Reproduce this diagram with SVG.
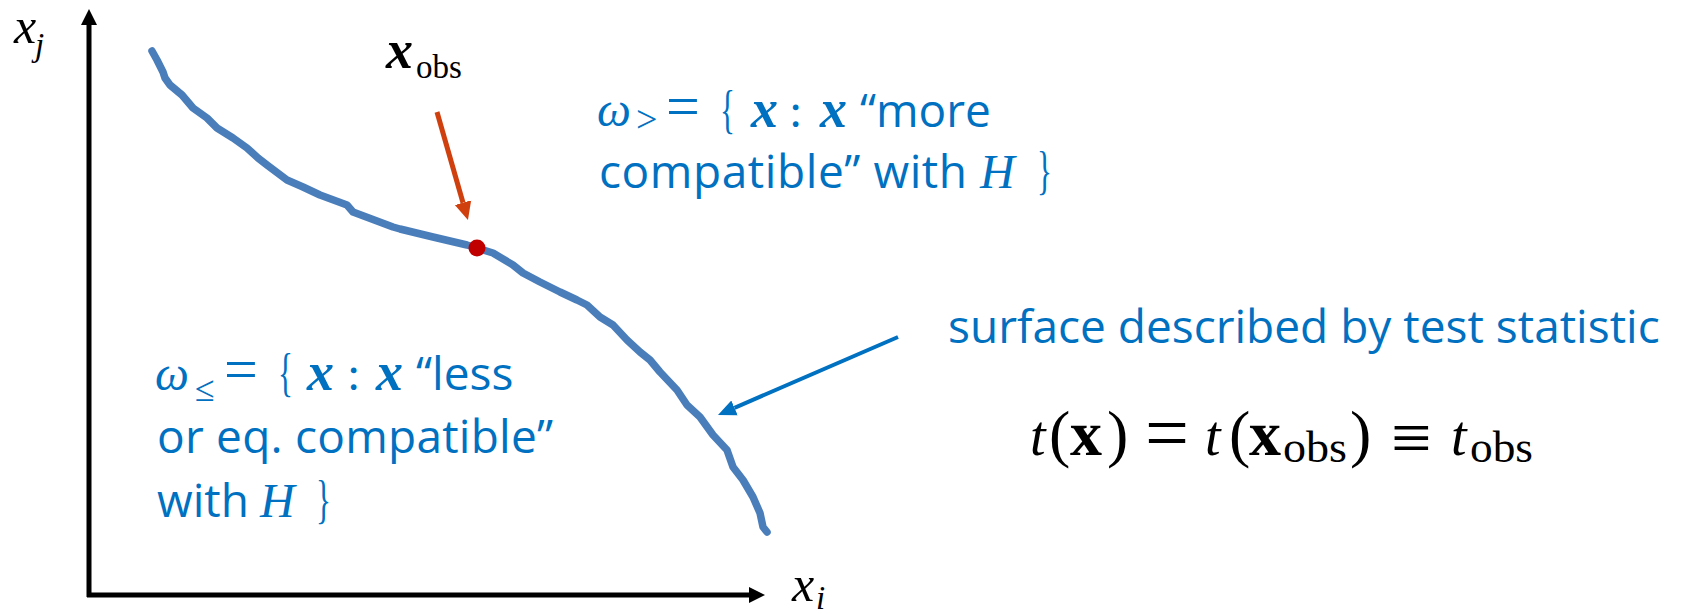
<svg xmlns="http://www.w3.org/2000/svg" width="1684" height="614" viewBox="0 0 1684 614">
<style>
.txt{font-family:"Open Sans","Liberation Sans",sans-serif;font-size:46px;fill:#0070C0}
.m{font-family:"Liberation Serif","Times New Roman",serif;fill:#0070C0}
.mi{font-style:italic}
.bi{font-style:italic;font-weight:bold}
.k{font-family:"Liberation Serif","Times New Roman",serif;fill:#000}
.axis{stroke:#000;stroke-width:5;fill:none}
</style>
<defs>
<marker id="ahk" markerUnits="userSpaceOnUse" markerWidth="20" markerHeight="20" refX="0" refY="10" orient="auto" viewBox="0 0 20 20"><path d="M0,2 L16,10 L0,18 z" fill="#000"/></marker>
<marker id="ahr" markerUnits="userSpaceOnUse" markerWidth="20" markerHeight="20" refX="0" refY="10" orient="auto" viewBox="0 0 20 20"><path d="M0,1.5 L18,10 L0,18.5 z" fill="#D0400F"/></marker>
<marker id="ahb" markerUnits="userSpaceOnUse" markerWidth="20" markerHeight="20" refX="0" refY="10" orient="auto" viewBox="0 0 20 20"><path d="M0,2 L18,10 L0,18 z" fill="#0070C0"/></marker>
</defs>

<g id="axes">
<line class="axis" x1="89" y1="597" x2="89" y2="25" marker-end="url(#ahk)"/>
<line class="axis" x1="87" y1="595" x2="749" y2="595" marker-end="url(#ahk)"/>
<text class="k mi" x="14" y="43" font-size="50">x</text>
<text class="k mi" x="35" y="56" font-size="33">j</text>
<text class="k mi" x="792" y="601" font-size="50">x</text>
<text class="k mi" x="816" y="609" font-size="33">i</text>
</g>

<g id="surface-curve">
<polyline fill="none" stroke="#4A7EBB" stroke-width="7.5" stroke-linecap="round" stroke-linejoin="round" points="152,51 157,60 163,72 165,78 170,85 182,95 193,108 207,118 217,128 233,138 247,148 258,158 267,165 287,180 303,187 320,195 347,205 353,212 393,227 400,229 433,237 467,245 477,248 493,253 513,265 523,273 540,282 560,292 577,300 587,305 600,317 613,325 627,340 640,352 650,360 660,372 677,390 687,405 700,417 713,435 727,450 733,467 743,480 753,497 760,513 763,527 767,532"/>
</g>

<g id="x-obs">
<circle cx="477" cy="248" r="8.5" fill="#C00000"/>
<text class="k bi" x="386" y="68" font-size="54">x</text>
<text class="k" x="416" y="78" font-size="33">obs</text>
</g>

<g id="connectors">
<line x1="437" y1="112" x2="463" y2="202.7" stroke="#D0400F" stroke-width="5" marker-end="url(#ahr)"/>
<line x1="898" y1="337" x2="734.5" y2="407.8" stroke="#0070C0" stroke-width="4" marker-end="url(#ahb)"/>
</g>

<g id="omega-greater">
<text class="m mi" x="597" y="126" font-size="48">ω</text>
<text class="m" x="636" y="132" font-size="38">&gt;</text>
<text class="m" x="666" y="126" font-size="60">=</text>
<text class="m" transform="translate(720 127) scale(0.6 1)" x="0" y="0" font-size="52">{</text>
<text class="m bi" x="751" y="127" font-size="54">x</text>
<text class="m" x="789" y="127" font-size="48">:</text>
<text class="m bi" x="820" y="127" font-size="54">x</text>
<text class="txt" x="860" y="127">“more</text>
<text class="txt" x="599" y="188" textLength="368" lengthAdjust="spacing">compatible” with</text>
<text class="m mi" x="980" y="188" font-size="48">H</text>
<text class="m" transform="translate(1037 188) scale(0.6 1)" x="0" y="0" font-size="52">}</text>
</g>

<g id="omega-lesseq">
<text class="m mi" x="155" y="390" font-size="48">ω</text>
<text class="m" x="195" y="401" font-size="36">≤</text>
<text class="m" x="224" y="389" font-size="60">=</text>
<text class="m" transform="translate(278 390) scale(0.6 1)" x="0" y="0" font-size="52">{</text>
<text class="m bi" x="307" y="390" font-size="54">x</text>
<text class="m" x="347" y="390" font-size="48">:</text>
<text class="m bi" x="376" y="390" font-size="54">x</text>
<text class="txt" x="416" y="390">“less</text>
<text class="txt" x="157" y="453" textLength="396" lengthAdjust="spacing">or eq. compatible”</text>
<text class="txt" x="157" y="517">with</text>
<text class="m mi" x="260" y="517" font-size="48">H</text>
<text class="m" transform="translate(316 517) scale(0.6 1)" x="0" y="0" font-size="52">}</text>
</g>

<g id="surface-label">
<text class="txt" x="948" y="343">surface described by test statistic</text>
</g>

<g id="formula">
<text class="k mi" x="1030" y="455" font-size="56">t</text>
<text class="k" x="1049" y="455" font-size="64">(</text>
<text class="k" x="1070" y="455" font-size="64" font-weight="bold">x</text>
<text class="k" x="1107" y="455" font-size="64">)</text>
<text class="k" x="1145" y="459" font-size="78">=</text>
<text class="k mi" x="1205" y="455" font-size="56">t</text>
<text class="k" x="1229" y="455" font-size="64">(</text>
<text class="k" x="1249" y="455" font-size="64" font-weight="bold">x</text>
<text class="k" x="1283" y="462" font-size="44" textLength="64" lengthAdjust="spacingAndGlyphs">obs</text>
<text class="k" x="1350" y="455" font-size="64">)</text>
<text class="k" x="1391" y="462" font-size="72">≡</text>
<text class="k mi" x="1451" y="455" font-size="56">t</text>
<text class="k" x="1470" y="462" font-size="44" textLength="63" lengthAdjust="spacingAndGlyphs">obs</text>
</g>
</svg>
